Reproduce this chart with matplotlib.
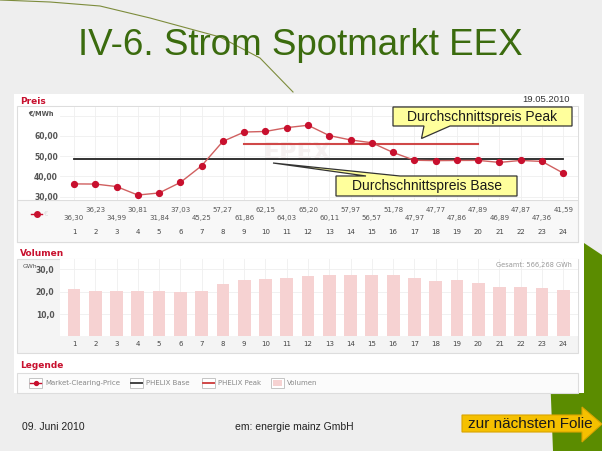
import matplotlib.pyplot as plt
import matplotlib.transforms as mtransforms
from matplotlib.patches import Rectangle, Polygon

# data
hours = list(range(1, 25))
price = [36.30, 36.23, 34.99, 30.81, 31.84, 37.03, 45.25, 57.27, 61.86, 62.15, 64.03, 65.20,
         60.11, 57.97, 56.57, 51.78, 47.97, 47.77, 47.86, 47.89, 46.89, 47.87, 47.36, 41.59]
volume = [21.2, 20.3, 20.1, 20.1, 20.5, 20.0, 20.5, 23.5, 25.3, 25.5, 26.3, 26.9,
          27.3, 27.6, 27.5, 27.3, 26.2, 24.8, 25.1, 24.0, 21.9, 21.9, 21.8, 20.6]
base_avg = 48.52
peak_avg = 55.93
peak_hours = [9, 20]
price_ticks = [30, 40, 50, 60]
volume_ticks = [10, 20, 30]
legend_items = ['Market-Clearing-Price', 'PHELIX Base', 'PHELIX Peak', 'Volumen']

W, H = 602, 451
RED = '#c8102e'
SANS = 'Liberation Sans'
SMALL = 'DejaVu Sans'


def fbox(x0, y0, x1, y1):
    return [x0 / W, 1 - y1 / H, (x1 - x0) / W, (y1 - y0) / H]


fig = plt.figure(figsize=(6.02, 4.51), dpi=100)
fig.patch.set_facecolor('#eeeeee')

# background layer in pixel coords
bg = fig.add_axes([0, 0, 1, 1], zorder=0)
bg.set_xlim(0, W)
bg.set_ylim(H, 0)
bg.axis('off')

bg.add_patch(Polygon([(545, 243), (584, 243), (602, 255), (602, 451), (553, 451)],
                     closed=True, fc='#5b8c00', ec='none'))
bg.plot([0, 50, 100, 150, 220, 260, 293], [0, 2, 6, 18, 37, 58, 92],
        color='#7d8c3c', lw=0.8)
bg.text(300.5, 55, 'IV-6. Strom Spotmarkt EEX', ha='center', va='baseline',
        fontsize=26.5, color='#3b6b0e', family=SANS)

bg.add_patch(Rectangle((14, 94), 570, 299, fc='white', ec='none'))
bg.add_patch(Rectangle((17, 106), 561, 136, fc='white', ec='#dddddd', lw=0.8))
bg.add_patch(Rectangle((17, 200), 561, 42, fc='#f8f8f8', ec='#dddddd', lw=0.8))
bg.add_patch(Rectangle((17, 259), 561, 94, fc='#f4f4f4', ec='#dddddd', lw=0.8))
bg.add_patch(Rectangle((17, 373), 561, 20, fc='#fbfbfb', ec='#dddddd', lw=0.8))

bg.text(20, 101, 'Preis', fontsize=6.5, weight='bold', color=RED, va='center', family=SMALL)
bg.text(20, 253, 'Volumen', fontsize=6.5, weight='bold', color=RED, va='center', family=SMALL)
bg.text(20, 365, 'Legende', fontsize=6.5, weight='bold', color=RED, va='center', family=SMALL)
bg.text(570, 99, '19.05.2010', fontsize=6.8, color='#333333', ha='right', va='center', family=SANS)

bg.text(22, 430.5, '09. Juni 2010', fontsize=7.5, color='#222222', family=SANS)
bg.text(235, 430.5, 'em: energie mainz GmbH', fontsize=7.5, color='#222222', family=SANS)

# price chart
ax_p = fig.add_axes(fbox(60, 107, 578, 200), zorder=2)
ax_p.set_facecolor('white')
ax_p.set_xlim(0.342, 24.69)
ax_p.set_ylim(28.37, 74.2)
for s in ax_p.spines.values():
    s.set_visible(False)
ax_p.set_xticks(hours)
ax_p.set_xticklabels([])
ax_p.set_yticks(price_ticks + [70])
ax_p.set_yticklabels([f'{t},00' for t in price_ticks] + [''], fontsize=5.5,
                     color='#555555', weight='bold', family=SMALL)
ax_p.tick_params(length=0, pad=1.5)
ax_p.grid(True, color='#efefef', lw=0.6)
ax_p.set_axisbelow(True)
ax_p.text(11.5, 51.5, 'EPEX', fontsize=17, weight='bold', color='#f5f1f1',
          ha='center', va='center', zorder=1)

ax_p.plot(hours, [base_avg] * len(hours), color='#222222', lw=1.3, zorder=3)
ax_p.plot(peak_hours, [peak_avg] * 2, color='#d04848', lw=1.5, zorder=3)
ax_p.plot(hours, price, color='#d06060', lw=1, marker='o', ms=4.2,
          mfc=RED, mec=RED, zorder=4)

# volume chart
ax_v = fig.add_axes(fbox(60, 259, 578, 336.4), zorder=2)
ax_v.set_facecolor('white')
ax_v.set_xlim(0.342, 24.69)
ax_v.set_ylim(0, 34.6)
for s in ax_v.spines.values():
    s.set_visible(False)
ax_v.set_xticks(hours)
ax_v.set_xticklabels([])
ax_v.set_yticks(volume_ticks)
ax_v.set_yticklabels([f'{t},0' for t in volume_ticks], fontsize=5.5,
                     color='#555555', weight='bold', family=SMALL)
ax_v.tick_params(length=0, pad=4)
ax_v.grid(True, color='#efefef', lw=0.6)
ax_v.set_axisbelow(True)
ax_v.bar(hours, volume, width=0.6, color='#f6d2d2', zorder=2)

# overlay in pixel coords
ov = fig.add_axes([0, 0, 1, 1], zorder=10)
ov.set_xlim(0, W)
ov.set_ylim(H, 0)
ov.patch.set_alpha(0)
ov.axis('off')

tp = mtransforms.blended_transform_factory(ax_p.transData, ov.transData)
for h, p in zip(hours, price):
    y = 210 if h % 2 == 0 else 218
    ov.text(h, y, f'{p:.2f}'.replace('.', ','), transform=tp, ha='center', va='center',
            fontsize=5, color='#555555', family=SMALL)
    ov.text(h, 232, str(h), transform=tp, ha='center', va='center',
            fontsize=5, color='#444444', family=SMALL)
    ov.text(h, 344, str(h), transform=tp, ha='center', va='center',
            fontsize=5, color='#444444', family=SMALL)
ov.plot([31, 42], [214, 214], color=RED, lw=1)
ov.plot([36.5], [214], 'o', ms=4, color=RED)
ov.text(44, 214, '€', fontsize=5, color='#dddddd', va='center', family=SMALL)
ov.text(28, 114, '€/MWh', fontsize=4.8, color='#555555', weight='bold', va='center', family=SMALL)
ov.text(23, 266.5, 'GWh', fontsize=4.4, color='#555555', va='center', family=SMALL)
ov.text(572, 265, 'Gesamt: 566,268 GWh', fontsize=4.8, color='#999999',
        ha='right', va='center', family=SMALL)

# legend row
icon_x = [29, 130, 202, 271]
for i, (x, lab) in enumerate(zip(icon_x, legend_items)):
    ov.add_patch(Rectangle((x, 378), 13, 9.5, fc='white', ec='#bbbbbb', lw=0.6))
    if i == 0:
        ov.plot([x + 1, x + 12], [382.7, 382.7], color=RED, lw=1)
        ov.plot([x + 6.5], [382.7], 'o', ms=2.8, color=RED)
    elif i == 1:
        ov.plot([x + 1, x + 12], [382.7, 382.7], color='#444444', lw=1.4)
    elif i == 2:
        ov.plot([x + 1, x + 12], [382.7, 382.7], color='#d04848', lw=1.4)
    else:
        ov.add_patch(Rectangle((x + 2, 380), 9, 5.5, fc='#f6d2d2', ec='none'))
    ov.text(x + 16, 382.7, lab, fontsize=5, color='#888888', va='center', family=SMALL)

# callouts
ov.add_patch(Polygon([(393, 107), (572, 107), (572, 126), (450, 126), (421.5, 138.5),
                      (424, 126), (393, 126)], closed=True, fc='#ffff9c', ec='#333333', lw=0.9))
ov.text(482.5, 116.5, 'Durchschnittspreis Peak', ha='center', va='center',
        fontsize=10, color='#1a1a1a', family=SANS)
ov.add_patch(Polygon([(336, 176), (366, 176), (273, 163), (400, 176), (517, 176),
                      (517, 196), (336, 196)], closed=True, fc='#ffff9c', ec='#333333', lw=0.9))
ov.text(426.5, 186, 'Durchschnittspreis Base', ha='center', va='center',
        fontsize=10, color='#1a1a1a', family=SANS)

# next-slide arrow
ov.add_patch(Polygon([(462, 415), (582, 415), (582, 407), (602, 424), (582, 442),
                      (582, 432), (462, 432)], closed=True, fc='#f5c000', ec='#d9a400', lw=0.8))
ov.text(468, 428.5, 'zur nächsten Folie', fontsize=11, color='#1a1a1a', family=SANS)

fig.savefig('out.png', dpi=100, facecolor=fig.get_facecolor())
